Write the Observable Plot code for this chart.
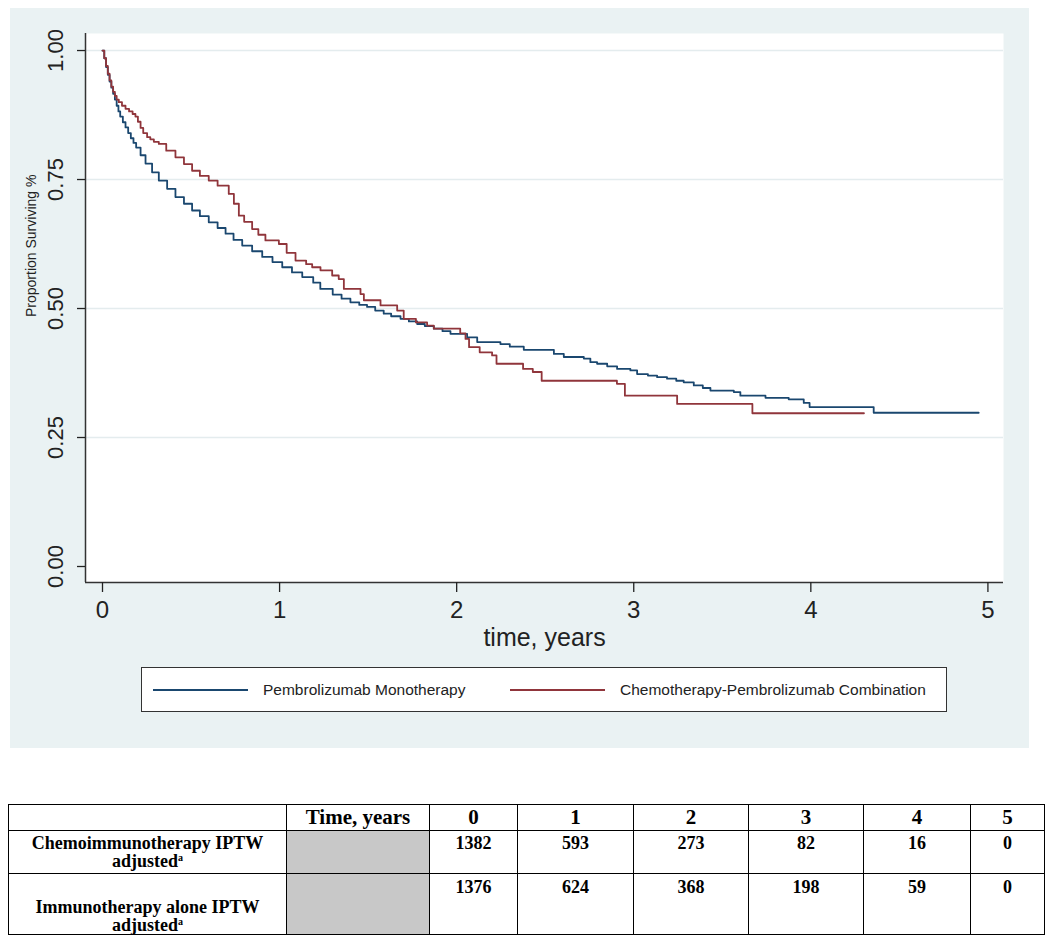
<!DOCTYPE html>
<html>
<head>
<meta charset="utf-8">
<script src="https://cdn.jsdelivr.net/npm/d3@7"></script>
<script src="https://cdn.jsdelivr.net/npm/@observablehq/plot@0.6"></script>
<style>
  html, body { margin: 0; padding: 0; background: #ffffff; }
  body { width: 1050px; height: 946px; position: relative; overflow: hidden; font-family: "Liberation Sans", Arial, sans-serif; }
  #panel { position: absolute; left: 10px; top: 8px; width: 1019px; height: 740px; background: #eaf2f3; }
  #chart { position: absolute; left: 10px; top: 8px; }
  #legend { position: absolute; left: 141px; top: 667px; width: 804px; height: 43px; border: 1.5px solid #333; background: #fff; }
  .sw { position: absolute; height: 2px; top: 21px; }
  .lt { position: absolute; top: 12px; font-size: 15.5px; line-height: 20px; color: #222; white-space: nowrap; }
  #risk { position: absolute; left: 8px; top: 804px; border-collapse: collapse; table-layout: fixed; font-family: "Liberation Serif", "Times New Roman", serif; font-weight: bold; color: #000; }
  #risk td { border: 1px solid #000; padding: 0; text-align: center; vertical-align: top; font-size: 18px; line-height: 18px; }
  #risk tr.h td { font-size: 21px; line-height: 25px; vertical-align: middle; }
  #risk td.g { background: #c8c8c8; }
  #risk .ln { display: block; height: 18px; line-height: 18px; overflow: visible; white-space: nowrap; }
  #risk sup { font-size: 10px; line-height: 0; vertical-align: 6px; }
</style>
</head>
<body>
<div id="panel"></div>
<div id="chart"></div>
<div id="legend"></div>
<table id="risk"></table>
<script>
// ---- data ----
const seriesNames = ["Pembrolizumab Monotherapy", "Chemotherapy-Pembrolizumab Combination"];
const seriesColors = ["#1a476f", "#90353b"];

const monoTime = [0, 0.01, 0.02, 0.03, 0.04, 0.05, 0.06, 0.07, 0.08, 0.09, 0.10, 0.115, 0.13, 0.145, 0.16, 0.175, 0.19, 0.215, 0.243, 0.28, 0.318, 0.365, 0.412, 0.46, 0.506, 0.55, 0.60, 0.65, 0.695, 0.74, 0.789, 0.845, 0.902, 0.96, 1.015, 1.07, 1.128, 1.19, 1.23, 1.30, 1.35, 1.40, 1.45, 1.494, 1.54, 1.588, 1.63, 1.683, 1.73, 1.777, 1.82, 1.871, 1.92, 1.965, 2.059, 2.116, 2.247, 2.30, 2.379, 2.549, 2.605, 2.718, 2.755, 2.793, 2.85, 2.906, 2.981, 3.019, 3.08, 3.132, 3.188, 3.24, 3.282, 3.339, 3.39, 3.433, 3.565, 3.602, 3.744, 3.875, 3.960, 3.993, 4.355, 4.948];
const monoSurv = [1.000, 0.985, 0.968, 0.953, 0.940, 0.928, 0.916, 0.905, 0.893, 0.882, 0.872, 0.861, 0.851, 0.840, 0.830, 0.821, 0.812, 0.797, 0.781, 0.764, 0.748, 0.732, 0.716, 0.703, 0.690, 0.679, 0.667, 0.656, 0.645, 0.633, 0.622, 0.611, 0.600, 0.590, 0.580, 0.570, 0.561, 0.550, 0.538, 0.527, 0.519, 0.512, 0.507, 0.503, 0.496, 0.490, 0.485, 0.480, 0.475, 0.470, 0.466, 0.461, 0.456, 0.451, 0.444, 0.435, 0.431, 0.426, 0.420, 0.412, 0.406, 0.403, 0.396, 0.393, 0.388, 0.383, 0.380, 0.373, 0.370, 0.367, 0.364, 0.360, 0.357, 0.351, 0.346, 0.341, 0.338, 0.331, 0.327, 0.324, 0.317, 0.309, 0.298, 0.298];

const comboTime = [0, 0.01, 0.02, 0.03, 0.04, 0.05, 0.06, 0.07, 0.08, 0.092, 0.11, 0.13, 0.15, 0.17, 0.186, 0.20, 0.215, 0.23, 0.252, 0.27, 0.29, 0.318, 0.36, 0.412, 0.46, 0.506, 0.55, 0.60, 0.65, 0.713, 0.742, 0.770, 0.80, 0.845, 0.88, 0.920, 0.996, 1.04, 1.09, 1.15, 1.184, 1.231, 1.297, 1.334, 1.363, 1.457, 1.476, 1.570, 1.664, 1.701, 1.77, 1.833, 1.871, 2.02, 2.05, 2.07, 2.13, 2.20, 2.225, 2.375, 2.43, 2.48, 2.905, 2.95, 3.245, 3.67, 4.30];
const comboSurv = [1.000, 0.985, 0.970, 0.955, 0.942, 0.930, 0.920, 0.912, 0.905, 0.900, 0.893, 0.887, 0.882, 0.877, 0.872, 0.862, 0.850, 0.840, 0.832, 0.828, 0.823, 0.819, 0.806, 0.793, 0.780, 0.767, 0.757, 0.748, 0.738, 0.722, 0.703, 0.680, 0.668, 0.654, 0.643, 0.632, 0.625, 0.608, 0.593, 0.586, 0.580, 0.574, 0.564, 0.557, 0.538, 0.528, 0.516, 0.506, 0.496, 0.480, 0.473, 0.467, 0.461, 0.452, 0.441, 0.425, 0.415, 0.409, 0.393, 0.383, 0.377, 0.360, 0.354, 0.331, 0.315, 0.297, 0.297];

const xTicks = [0, 1, 2, 3, 4, 5];
const yTicks = [0, 0.25, 0.5, 0.75, 1];
const gridTicks = [0.25, 0.5, 0.75, 1];
const xDomain = [-0.096, 5.088];
const yDomain = [-0.031, 1.033];

const riskYears = [0, 1, 2, 3, 4, 5];
const riskHeader = "Time, years";
const chemoLabel = ["Chemoimmunotherapy IPTW", "adjusted"];
const immunoLabel = ["Immunotherapy alone IPTW", "adjusted"];
const chemoAtRisk = [1382, 593, 273, 82, 16, 0];
const immunoAtRisk = [1376, 624, 368, 198, 59, 0];

// ---- chart ----
const rows = [
  ...monoTime.map((t, i) => ({t, s: monoSurv[i], group: seriesNames[0]})),
  ...comboTime.map((t, i) => ({t, s: comboSurv[i], group: seriesNames[1]}))
];

const chart = Plot.plot({
  width: 1018,
  height: 650,
  marginLeft: 75,
  marginRight: 25,
  marginTop: 25,
  marginBottom: 76,
  x: {domain: xDomain},
  y: {domain: yDomain},
  color: {domain: seriesNames, range: seriesColors},
  style: {background: "transparent", fontFamily: "'Liberation Sans', Arial, sans-serif", color: "#222", overflow: "visible"},
  marks: [
    Plot.frame({fill: "white", stroke: null}),
    Plot.ruleY(gridTicks, {stroke: "#e4ecee", strokeWidth: 1.5}),
    Plot.ruleX([xDomain[0]], {stroke: "#333", strokeWidth: 1.5}),
    Plot.ruleY([yDomain[0]], {stroke: "#333", strokeWidth: 1.5}),
    Plot.axisY({ticks: yTicks, tickSize: 8, tickFormat: () => "", label: null, strokeWidth: 1.3}),
    Plot.text(yTicks, {frameAnchor: "left", y: d => d, text: d => d3.format(".2f")(d), rotate: -90, dx: -30, fontSize: 22, textAnchor: "middle", lineAnchor: "middle", fill: "#222"}),
    Plot.axisX({ticks: xTicks, tickSize: 10, tickPadding: 8, fontSize: 24, label: null, strokeWidth: 1.3, tickFormat: d3.format("d")}),
    Plot.text(["Proportion Surviving %"], {frameAnchor: "left", dx: -54, dy: 9, rotate: -90, fontSize: 14, fill: "#222"}),
    Plot.text(["time, years"], {frameAnchor: "bottom", dy: 55, fontSize: 25, lineAnchor: "middle", fill: "#222"}),
    Plot.line(rows, {x: "t", y: "s", z: "group", stroke: "group", curve: "step-after", strokeWidth: 1.8})
  ]
});
document.getElementById("chart").appendChild(chart);

// ---- legend ----
const legend = document.getElementById("legend");
const legendPos = [{sw: 11, txt: 121}, {sw: 368, txt: 478}];
seriesNames.forEach((name, i) => {
  const s = document.createElement("div");
  s.className = "sw";
  s.style.left = legendPos[i].sw + "px";
  s.style.width = "95px";
  s.style.background = seriesColors[i];
  legend.appendChild(s);
  const t = document.createElement("div");
  t.className = "lt";
  t.style.left = legendPos[i].txt + "px";
  t.textContent = name;
  legend.appendChild(t);
});

// ---- risk table ----
const colW = [278, 143, 88, 116, 115, 115, 107, 74];
const table = document.getElementById("risk");
const cg = document.createElement("colgroup");
colW.forEach(w => { const c = document.createElement("col"); c.style.width = w + "px"; cg.appendChild(c); });
table.appendChild(cg);
table.style.width = colW.reduce((a, b) => a + b, 0) + "px";

const hr = document.createElement("tr");
hr.className = "h";
hr.style.height = "26px";
["", riskHeader, ...riskYears].forEach(v => { const td = document.createElement("td"); td.textContent = v; hr.appendChild(td); });
table.appendChild(hr);

function dataRow(label, vals, h, labelPad, numPad, borderTopGray) {
  const tr = document.createElement("tr");
  tr.style.height = h + "px";
  const l = document.createElement("td");
  l.innerHTML = '<span class="ln">' + label[0] + '</span><span class="ln">' + label[1] + "<sup>a</sup></span>";
  l.style.paddingTop = labelPad + "px";
  tr.appendChild(l);
  const g = document.createElement("td");
  g.className = "g";
  if (borderTopGray) g.style.borderTop = "1px solid #dcdcdc";
  tr.appendChild(g);
  vals.forEach(v => {
    const td = document.createElement("td");
    td.textContent = v;
    td.style.paddingTop = numPad + "px";
    tr.appendChild(td);
  });
  table.appendChild(tr);
}
dataRow(chemoLabel, chemoAtRisk, 43, 3, 3, false);
dataRow(immunoLabel, immunoAtRisk, 61, 24, 4, true);
</script>
</body>
</html>
